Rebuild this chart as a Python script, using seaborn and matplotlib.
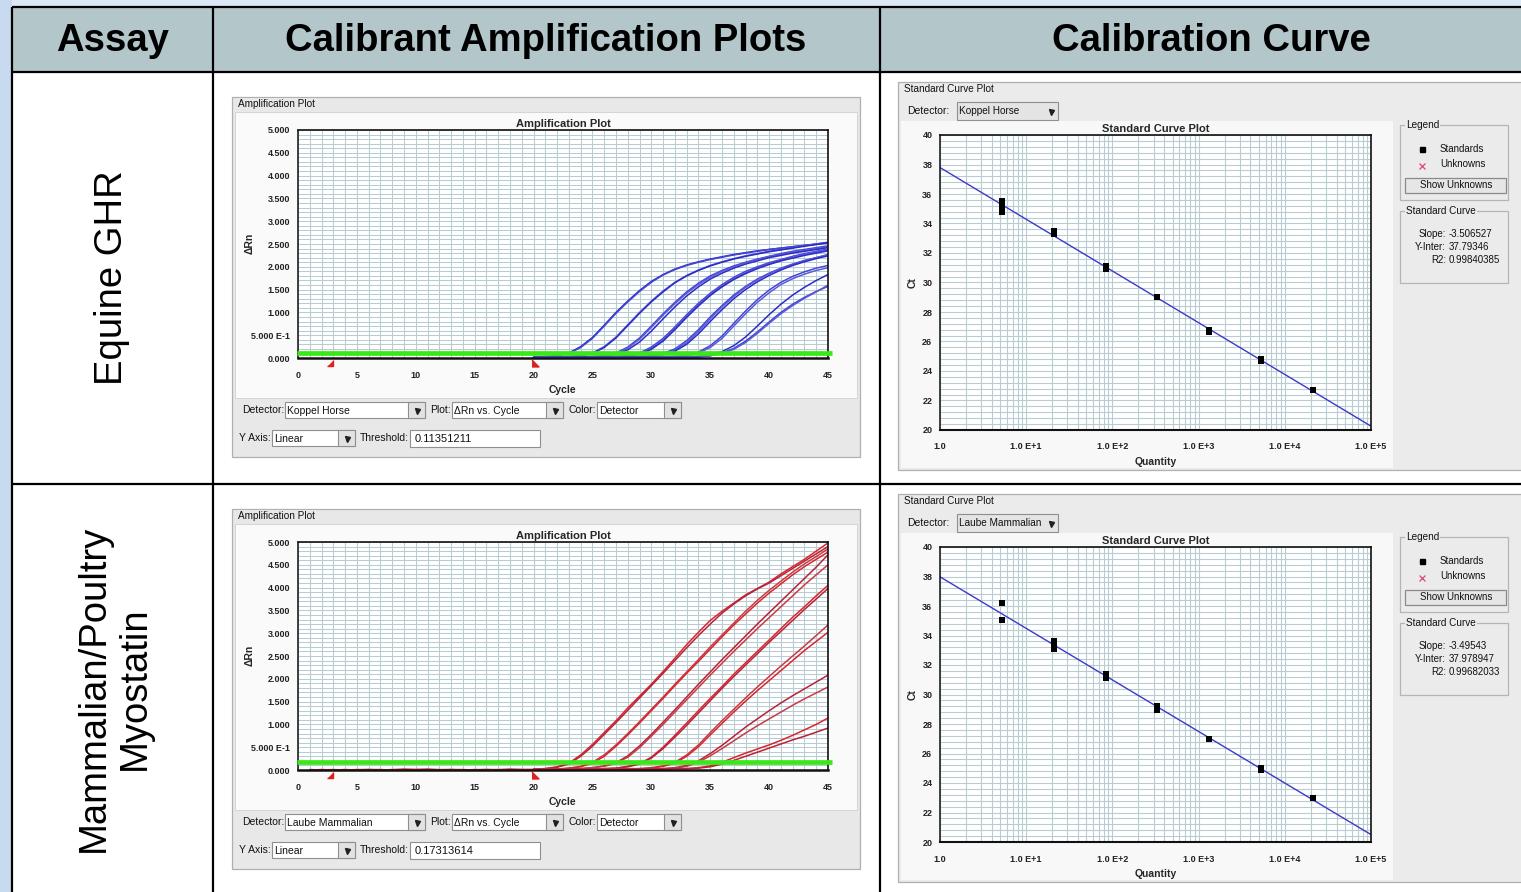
import matplotlib
matplotlib.use("Agg")
import matplotlib.pyplot as plt
from matplotlib.patches import Rectangle
from matplotlib.ticker import MultipleLocator, LogLocator, NullFormatter
import pandas as pd
import seaborn as sns

sns.set_style("white")
plt.rcParams["font.family"] = ["Liberation Sans", "DejaVu Sans"]

W, H = 1521, 892

# ---------------- table text ----------------
HEADERS = ["Assay", "Calibrant Amplification Plots", "Calibration Curve"]
ASSAYS = ["Equine GHR", "Mammalian/Poultry\nMyostatin"]
DETECTORS = ["Koppel Horse", "Laube Mammalian"]
THRESHOLDS = [0.11351211, 0.17313614]
SLOPES = [-3.506527, -3.49543]
INTERCEPTS = [37.79346, 37.978947]
R2_VALUES = [0.99840385, 0.99682033]

# ---------------- amplification data (ΔRn per cycle) ----------------
CYCLES = list(range(20, 46))
BASELINE_CYCLES = list(range(1, 21))
BASELINE_WINDOW = [2.7, 20.1]

GHR_RN = [
    [0.02, 0.03, 0.05, 0.11, 0.25, 0.45, 0.72, 1.00, 1.25, 1.48, 1.68, 1.83, 1.95, 2.04, 2.11, 2.17, 2.22, 2.27, 2.31, 2.35, 2.38, 2.41, 2.44, 2.47, 2.50, 2.53],
    [0.02, 0.03, 0.05, 0.10, 0.23, 0.43, 0.70, 0.98, 1.23, 1.46, 1.66, 1.82, 1.94, 2.03, 2.10, 2.16, 2.21, 2.26, 2.30, 2.34, 2.38, 2.41, 2.44, 2.47, 2.49, 2.52],
    [0.01, 0.02, 0.02, 0.03, 0.05, 0.11, 0.25, 0.46, 0.73, 1.00, 1.25, 1.47, 1.66, 1.81, 1.93, 2.03, 2.11, 2.18, 2.24, 2.29, 2.34, 2.38, 2.42, 2.46, 2.50, 2.54],
    [0.01, 0.01, 0.02, 0.03, 0.05, 0.10, 0.23, 0.44, 0.71, 0.98, 1.23, 1.45, 1.65, 1.80, 1.92, 2.02, 2.10, 2.17, 2.23, 2.28, 2.33, 2.37, 2.41, 2.45, 2.49, 2.53],
    [0.00, 0.01, 0.01, 0.02, 0.02, 0.03, 0.05, 0.11, 0.24, 0.44, 0.70, 0.97, 1.22, 1.45, 1.64, 1.80, 1.92, 2.02, 2.10, 2.17, 2.23, 2.29, 2.34, 2.38, 2.42, 2.46],
    [0.00, 0.01, 0.01, 0.02, 0.02, 0.03, 0.05, 0.10, 0.22, 0.41, 0.67, 0.94, 1.19, 1.42, 1.61, 1.77, 1.90, 2.00, 2.09, 2.16, 2.22, 2.27, 2.32, 2.36, 2.40, 2.44],
    [0.00, 0.00, 0.01, 0.01, 0.02, 0.02, 0.04, 0.08, 0.18, 0.35, 0.59, 0.86, 1.12, 1.36, 1.56, 1.73, 1.86, 1.97, 2.06, 2.13, 2.20, 2.25, 2.30, 2.34, 2.38, 2.42],
    [0.00, 0.00, 0.01, 0.01, 0.01, 0.02, 0.02, 0.03, 0.05, 0.11, 0.24, 0.43, 0.68, 0.95, 1.20, 1.42, 1.61, 1.77, 1.90, 2.00, 2.09, 2.16, 2.23, 2.29, 2.34, 2.39],
    [0.00, 0.00, 0.01, 0.01, 0.01, 0.02, 0.02, 0.03, 0.04, 0.09, 0.21, 0.40, 0.65, 0.92, 1.17, 1.39, 1.58, 1.74, 1.87, 1.98, 2.07, 2.14, 2.21, 2.27, 2.32, 2.37],
    [0.00, 0.00, 0.00, 0.01, 0.01, 0.01, 0.02, 0.03, 0.04, 0.08, 0.19, 0.37, 0.62, 0.89, 1.14, 1.37, 1.56, 1.72, 1.85, 1.96, 2.05, 2.13, 2.19, 2.25, 2.30, 2.35],
    [0.00, 0.00, 0.00, 0.01, 0.01, 0.01, 0.01, 0.02, 0.02, 0.03, 0.05, 0.10, 0.20, 0.38, 0.62, 0.90, 1.15, 1.38, 1.57, 1.73, 1.86, 1.97, 2.06, 2.14, 2.20, 2.26],
    [0.00, 0.00, 0.00, 0.01, 0.01, 0.01, 0.01, 0.02, 0.02, 0.03, 0.04, 0.08, 0.17, 0.34, 0.58, 0.86, 1.12, 1.35, 1.55, 1.71, 1.85, 1.96, 2.05, 2.13, 2.20, 2.27],
    [0.00, 0.00, 0.00, 0.00, 0.01, 0.01, 0.01, 0.01, 0.02, 0.02, 0.04, 0.07, 0.15, 0.30, 0.53, 0.80, 1.06, 1.30, 1.50, 1.67, 1.81, 1.93, 2.03, 2.11, 2.18, 2.24],
    [0.00, 0.00, 0.00, 0.00, 0.00, 0.01, 0.01, 0.01, 0.01, 0.01, 0.02, 0.02, 0.03, 0.06, 0.13, 0.27, 0.48, 0.76, 1.03, 1.28, 1.49, 1.66, 1.79, 1.89, 1.97, 2.03],
    [0.00, 0.00, 0.00, 0.00, 0.00, 0.01, 0.01, 0.01, 0.01, 0.01, 0.02, 0.02, 0.03, 0.05, 0.11, 0.23, 0.43, 0.70, 0.97, 1.22, 1.43, 1.61, 1.74, 1.84, 1.92, 1.98],
    [0.00, 0.00, 0.00, 0.00, 0.00, 0.00, 0.01, 0.01, 0.01, 0.01, 0.01, 0.02, 0.02, 0.02, 0.03, 0.06, 0.14, 0.27, 0.46, 0.70, 0.95, 1.18, 1.38, 1.55, 1.70, 1.83],
    [0.00, 0.00, 0.00, 0.00, 0.00, 0.00, 0.01, 0.01, 0.01, 0.01, 0.01, 0.02, 0.02, 0.02, 0.03, 0.05, 0.11, 0.21, 0.37, 0.57, 0.79, 1.00, 1.18, 1.33, 1.46, 1.57],
    [0.00, 0.00, 0.00, 0.00, 0.00, 0.00, 0.01, 0.01, 0.01, 0.01, 0.01, 0.02, 0.02, 0.02, 0.02, 0.05, 0.10, 0.19, 0.34, 0.54, 0.76, 0.97, 1.15, 1.31, 1.45, 1.60],
]

MSTN_RN = [
    [0.02, 0.03, 0.07, 0.15, 0.33, 0.56, 0.82, 1.08, 1.36, 1.62, 1.88, 2.16, 2.45, 2.75, 3.02, 3.28, 3.48, 3.66, 3.84, 3.98, 4.12, 4.30, 4.46, 4.62, 4.80, 4.98],
    [0.02, 0.03, 0.06, 0.13, 0.30, 0.52, 0.78, 1.04, 1.31, 1.58, 1.85, 2.12, 2.40, 2.68, 2.95, 3.20, 3.44, 3.64, 3.82, 3.97, 4.10, 4.26, 4.42, 4.58, 4.74, 4.90],
    [0.01, 0.02, 0.02, 0.04, 0.08, 0.17, 0.33, 0.55, 0.80, 1.06, 1.33, 1.60, 1.88, 2.15, 2.42, 2.70, 2.96, 3.22, 3.48, 3.72, 3.94, 4.14, 4.34, 4.52, 4.68, 4.85],
    [0.01, 0.02, 0.02, 0.04, 0.07, 0.15, 0.30, 0.52, 0.77, 1.03, 1.30, 1.57, 1.85, 2.12, 2.38, 2.65, 2.92, 3.18, 3.42, 3.66, 3.88, 4.08, 4.28, 4.46, 4.62, 4.78],
    [0.01, 0.01, 0.02, 0.02, 0.03, 0.05, 0.09, 0.16, 0.31, 0.53, 0.78, 1.05, 1.32, 1.60, 1.88, 2.15, 2.42, 2.68, 2.94, 3.20, 3.45, 3.70, 3.95, 4.20, 4.45, 4.72],
    [0.01, 0.01, 0.02, 0.02, 0.03, 0.05, 0.08, 0.15, 0.28, 0.49, 0.74, 1.00, 1.27, 1.54, 1.81, 2.08, 2.34, 2.60, 2.85, 3.10, 3.34, 3.58, 3.82, 4.06, 4.28, 4.50],
    [0.00, 0.01, 0.01, 0.01, 0.02, 0.02, 0.03, 0.04, 0.08, 0.14, 0.28, 0.50, 0.76, 1.03, 1.30, 1.57, 1.83, 2.10, 2.35, 2.60, 2.85, 3.10, 3.35, 3.58, 3.82, 4.05],
    [0.00, 0.01, 0.01, 0.01, 0.02, 0.02, 0.03, 0.04, 0.07, 0.13, 0.26, 0.47, 0.72, 0.98, 1.25, 1.52, 1.79, 2.05, 2.30, 2.55, 2.80, 3.04, 3.28, 3.52, 3.75, 3.98],
    [0.00, 0.00, 0.01, 0.01, 0.01, 0.01, 0.02, 0.02, 0.03, 0.03, 0.05, 0.09, 0.17, 0.33, 0.55, 0.82, 1.08, 1.33, 1.58, 1.82, 2.05, 2.28, 2.50, 2.72, 2.95, 3.18],
    [0.00, 0.00, 0.01, 0.01, 0.01, 0.01, 0.02, 0.02, 0.02, 0.03, 0.04, 0.08, 0.15, 0.30, 0.51, 0.77, 1.02, 1.27, 1.51, 1.74, 1.96, 2.18, 2.40, 2.62, 2.82, 3.02],
    [0.00, 0.00, 0.00, 0.01, 0.01, 0.01, 0.01, 0.02, 0.02, 0.02, 0.03, 0.03, 0.05, 0.10, 0.20, 0.36, 0.54, 0.74, 0.94, 1.12, 1.30, 1.47, 1.63, 1.78, 1.93, 2.08],
    [0.00, 0.00, 0.00, 0.01, 0.01, 0.01, 0.01, 0.02, 0.02, 0.02, 0.03, 0.03, 0.04, 0.08, 0.17, 0.31, 0.47, 0.64, 0.81, 0.97, 1.12, 1.27, 1.42, 1.56, 1.69, 1.82],
    [0.00, 0.00, 0.00, 0.00, 0.01, 0.01, 0.01, 0.01, 0.01, 0.02, 0.02, 0.02, 0.03, 0.03, 0.05, 0.09, 0.17, 0.27, 0.37, 0.46, 0.55, 0.65, 0.76, 0.88, 1.00, 1.14],
    [0.00, 0.00, 0.00, 0.00, 0.01, 0.01, 0.01, 0.01, 0.01, 0.02, 0.02, 0.02, 0.03, 0.03, 0.04, 0.07, 0.13, 0.21, 0.30, 0.39, 0.48, 0.57, 0.66, 0.74, 0.83, 0.92],
]

# early-cycle baseline noise (only visible for the myostatin run)
MSTN_BASELINE = [
    [0.01, 0.00, 0.01, 0.00, 0.01, 0.01, 0.00, 0.01, 0.02, 0.01, 0.02, 0.01, 0.01, 0.00, 0.01, 0.01, 0.01, 0.02, 0.01, 0.01],
    [0.00, 0.01, 0.00, 0.01, 0.00, 0.01, 0.01, 0.00, 0.01, 0.01, 0.01, 0.00, 0.01, 0.01, 0.00, 0.01, 0.00, 0.01, 0.01, 0.01],
]

# ---------------- standard curve data ----------------
QUANTITY = [5.2, 20.8, 83.3, 333.0, 1333.0, 5333.0, 21333.0]
GHR_CT = [[35.55, 35.2, 34.8], [33.5, 33.3], [31.15, 30.9], [29.0],
          [26.8, 26.65], [24.8, 24.65], [22.7]]
MSTN_CT = [[36.2, 35.05], [33.6, 33.33, 33.08], [31.4, 31.1], [29.2, 28.97],
           [27.0], [25.05, 24.85], [22.95]]
QTY_RANGE = [1.0, 1.0e5]

BLUE_SHADES = ["#2c2cc6", "#4545d4", "#5a5ad8"]
RED_SHADES = ["#d8262c", "#b82238", "#c93a44"]

# ---------------- figure ----------------
fig = plt.figure(figsize=(W / 100, H / 100), dpi=100, facecolor="#dbe7f4")
bg = fig.add_axes([0, 0, 1, 1])
bg.set_xlim(0, W)
bg.set_ylim(H, 0)
bg.axis("off")


def frac(x0, y0, x1, y1):
    return [x0 / W, 1 - y1 / H, (x1 - x0) / W, (y1 - y0) / H]


def rect(x0, y0, x1, y1, fc, ec="none", lw=0.8, z=1):
    bg.add_patch(Rectangle((x0, y0), x1 - x0, y1 - y0, fc=fc, ec=ec, lw=lw, zorder=z))


UI = dict(fontsize=7.5, color="#111111")

# outer table
rect(0, 0, 12, H, "#c7daef", z=0)
rect(12, 7, W + 5, H + 5, "white", z=0.5)
rect(12, 7, W + 5, 72, "#b3c7cb", z=0.6)
for y in (7, 72, 484):
    bg.plot([12, W], [y, y], color="black", lw=1.6, zorder=3, solid_capstyle="butt")
for x in (12, 213, 880):
    bg.plot([x, x], [7, H], color="black", lw=1.6, zorder=3, solid_capstyle="butt")

for x, txt in zip((112, 546, 1211), HEADERS):
    bg.text(x, 41, txt, ha="center", va="center", fontsize=27.5,
            fontweight="bold", color="black", zorder=4)

bg.text(112, 278, ASSAYS[0], rotation=90, ha="center", va="center",
        fontsize=27.5, color="black", zorder=4)
bg.text(114, 688, ASSAYS[1], rotation=90, ha="center", va="center",
        multialignment="center", linespacing=1.18, fontsize=27.5,
        color="black", zorder=4)


def combo(x0, x1, yc, text, fill="white", h=16, aw=17, fs=7.5):
    rect(x0, yc - h / 2, x1, yc + h / 2, fill, ec="#8f8f8f", z=2)
    if aw:
        rect(x1 - aw, yc - h / 2, x1, yc + h / 2, "#e2e2e2", ec="#8f8f8f", z=2.1)
        ax_x = x1 - aw / 2
    else:
        ax_x = x1 - 7
    bg.plot([ax_x], [yc + 0.5], marker="v", ms=3.6, color="#202020", zorder=3)
    if text:
        bg.text(x0 + 2, yc + 0.5, text, ha="left", va="center", zorder=3,
                fontsize=fs, color="#111111")


def group_box(x0, y0, x1, y1, title, fill):
    rect(x0, y0, x1, y1, "none", ec="#b5b5b5", lw=0.9, z=2)
    bg.text(x0 + 6, y0, title, ha="left", va="center", zorder=3,
            bbox=dict(fc=fill, ec="none", pad=0.6), fontsize=7.2, color="#111111")


def amp_panel(dy, curves, color_list, detector, threshold, baseline=None):
    rect(232, 97 + dy, 860, 457 + dy, "#e8e8e8", ec="#b0b0b0", lw=0.9, z=1)
    rect(235, 112 + dy, 857, 398 + dy, "#fafafa", ec="#d0d0d0", lw=0.6, z=1.2)
    bg.text(238, 104 + dy, "Amplification Plot", ha="left", va="center",
            fontsize=7.2, color="#111111", zorder=3,
            bbox=dict(fc="#e8e8e8", ec="none", pad=0.5))
    # controls
    bg.text(284, 410 + dy, "Detector:", ha="right", va="center", zorder=3, **UI)
    combo(285, 425, 410 + dy, detector)
    bg.text(451, 410 + dy, "Plot:", ha="right", va="center", zorder=3, **UI)
    combo(452, 563, 410 + dy, "ΔRn vs. Cycle")
    bg.text(596, 410 + dy, "Color:", ha="right", va="center", zorder=3, **UI)
    combo(597, 681, 410 + dy, "Detector")
    bg.text(271, 438 + dy, "Y Axis:", ha="right", va="center", zorder=3, **UI)
    combo(272, 355, 438 + dy, "Linear")
    bg.text(409, 438 + dy, "Threshold:", ha="right", va="center", zorder=3, **UI)
    rect(410, 430 + dy, 540, 447 + dy, "white", ec="#8f8f8f", z=2)
    bg.text(415, 439 + dy, f"{threshold:.8f}", ha="left", va="center",
            zorder=3, fontsize=8, color="#111111")

    ax = fig.add_axes(frac(298, 130 + dy, 828, 358 + dy))
    ax.set_facecolor("white")
    ax.set_xlim(0, 45)
    ax.set_ylim(0, 5)
    ax.set_axisbelow(True)
    ax.xaxis.set_minor_locator(MultipleLocator(1))
    ax.yaxis.set_minor_locator(MultipleLocator(0.1))
    ax.grid(which="both", color="#b9ccd3", lw=0.75)

    rows = []
    for w, vals in enumerate(curves):
        for c, v in zip(CYCLES, vals):
            rows.append((w, c, v))
    if baseline is not None:
        for b, vals in enumerate(baseline):
            for c, v in zip(BASELINE_CYCLES, vals):
                rows.append((len(curves) + b, c, v))
    df = pd.DataFrame(rows, columns=["well", "Cycle", "dRn"])
    n_wells = df["well"].nunique()
    palette = [color_list[i % len(color_list)] for i in range(n_wells)]
    sns.lineplot(data=df, x="Cycle", y="dRn", hue="well", units="well",
                 estimator=None, palette=palette, lw=1.1, legend=False, ax=ax)

    ax.plot([-0.1, 45.35], [threshold, threshold], color="#3ae81a", lw=3.4,
            clip_on=False, zorder=5, solid_capstyle="butt")
    ax.plot([BASELINE_WINDOW[0]], [-0.1], marker=[(-1, -1), (1, -1), (1, 1)],
            ms=5, color="#dd2020", clip_on=False, zorder=6)
    ax.plot([BASELINE_WINDOW[1]], [-0.1], marker=[(-1, -1), (1, -1), (-1, 1)],
            ms=5, color="#dd2020", clip_on=False, zorder=6)

    yt = [0, 0.5, 1, 1.5, 2, 2.5, 3, 3.5, 4, 4.5, 5]
    ylab = ["0.000", "5.000 E-1"] + [f"{v:.3f}" for v in yt[2:]]
    ax.set_yticks(yt, ylab, fontsize=6.5, fontweight="bold", color="#222222")
    ax.set_xticks(range(0, 46, 5), [str(v) for v in range(0, 46, 5)],
                  fontsize=6.5, fontweight="bold", color="#222222")
    ax.tick_params(which="major", axis="y", length=4, width=0.8, color="#8a8a8a", pad=1.5)
    ax.tick_params(which="major", axis="x", length=2, width=0.8, color="#8a8a8a", pad=7)
    ax.tick_params(which="minor", length=0)
    for s in ("top", "right"):
        ax.spines[s].set_color("#111111")
        ax.spines[s].set_linewidth(1.2)
    ax.spines["bottom"].set_color("#111111")
    ax.spines["bottom"].set_linewidth(1.8)
    ax.spines["left"].set_color("#111111")
    ax.spines["left"].set_linewidth(1.1)
    ax.spines["left"].set_linestyle((0, (2, 1)))
    ax.set_title("Amplification Plot", fontsize=8, fontweight="bold", pad=2)
    ax.set_xlabel("Cycle", fontsize=7.5, fontweight="bold")
    ax.set_ylabel("ΔRn", fontsize=7.5, fontweight="bold")
    ax.xaxis.set_label_coords(0.498, -0.118)
    ax.yaxis.set_label_coords(-0.082, 0.504)
    return ax


def std_panel(dy, ct_groups, detector, slope, intercept, r2):
    panel_fc = "#ebebeb"
    rect(898, 82 + dy, W + 5, 470 + dy, panel_fc, ec="#b0b0b0", lw=0.9, z=1)
    rect(901, 121 + dy, 1393, 468 + dy, "#f8f8f8", ec="none", z=1.2)
    bg.text(904, 89 + dy, "Standard Curve Plot", ha="left", va="center",
            fontsize=7.2, color="#111111", zorder=3)
    bg.text(907, 111 + dy, "Detector:", ha="left", va="center", zorder=3, **UI)
    combo(957, 1058, 111 + dy, detector, fill="#e4e4e4", h=18, aw=0, fs=7.2)

    group_box(1400, 125 + dy, 1508, 200 + dy, "Legend", panel_fc)
    bg.plot([1422], [149 + dy], marker="s", ms=3.6, color="black", zorder=3)
    bg.text(1440, 149 + dy, "Standards", ha="left", va="center", zorder=3,
            fontsize=7, color="#111111")
    bg.plot([1422], [166 + dy], marker="x", ms=5, mew=0.9, color="#e0457a", zorder=3)
    bg.text(1440, 164 + dy, "Unknowns", ha="left", va="center", zorder=3,
            fontsize=7, color="#111111")
    rect(1405, 178 + dy, 1506, 193 + dy, "#e6e6e6", ec="#8a8a8a", lw=0.9, z=2)
    bg.text(1456, 185.5 + dy, "Show Unknowns", ha="center", va="center", zorder=3,
            fontsize=7, color="#111111")

    group_box(1400, 211 + dy, 1508, 283 + dy, "Standard Curve", panel_fc)
    for yy, lab, val in ((234, "Slope:", slope), (247, "Y-Inter:", intercept),
                         (260, "R2:", r2)):
        bg.text(1446, yy + dy, lab, ha="right", va="center", zorder=3,
                fontsize=7, color="#111111")
        bg.text(1449, yy + dy, f"{val}", ha="left", va="center", zorder=3,
                fontsize=7, color="#111111")

    ax = fig.add_axes(frac(940, 135 + dy, 1371, 430 + dy))
    ax.set_facecolor("white")
    ax.set_xscale("log")
    ax.set_xlim(QTY_RANGE[0], QTY_RANGE[1])
    ax.set_ylim(20, 40)
    ax.set_axisbelow(True)
    ax.xaxis.set_minor_locator(LogLocator(base=10, subs=range(2, 10), numticks=20))
    ax.xaxis.set_minor_formatter(NullFormatter())
    ax.yaxis.set_minor_locator(MultipleLocator(0.4))
    ax.grid(which="both", color="#b9ccd3", lw=0.8)

    qs, cts = [], []
    for q, grp in zip(QUANTITY, ct_groups):
        for c in grp:
            qs.append(q)
            cts.append(c)
    pts = pd.DataFrame({"Quantity": qs, "Ct": cts})
    fit = pd.DataFrame({"Quantity": QTY_RANGE,
                        "Ct": [intercept, intercept + slope * 5]})
    sns.lineplot(data=fit, x="Quantity", y="Ct", color="#3a3ac8", lw=1.0, ax=ax)
    sns.scatterplot(data=pts, x="Quantity", y="Ct", marker="s", s=16,
                    color="black", linewidth=0, ax=ax, zorder=4)

    ax.set_xticks([1, 10, 100, 1000, 1e4, 1e5],
                  ["1.0", "1.0 E+1", "1.0 E+2", "1.0 E+3", "1.0 E+4", "1.0 E+5"],
                  fontsize=6.5, fontweight="bold", color="#222222")
    ax.set_yticks(range(20, 41, 2), [str(v) for v in range(20, 41, 2)],
                  fontsize=6.5, fontweight="bold", color="#222222")
    ax.tick_params(which="major", axis="y", length=4, width=0.8, color="#8a8a8a", pad=1.5)
    ax.tick_params(which="major", axis="x", length=2, width=0.8, color="#8a8a8a", pad=7)
    ax.tick_params(which="minor", length=0)
    for s in ("top", "right"):
        ax.spines[s].set_color("#111111")
        ax.spines[s].set_linewidth(1.2)
    ax.spines["bottom"].set_color("#111111")
    ax.spines["bottom"].set_linewidth(1.5)
    ax.spines["left"].set_color("#111111")
    ax.spines["left"].set_linewidth(1.1)
    ax.spines["left"].set_linestyle((0, (2, 1)))
    ax.set_title("Standard Curve Plot", fontsize=8, fontweight="bold", pad=2)
    ax.set_xlabel("Quantity", fontsize=7.5, fontweight="bold")
    ax.set_ylabel("Ct", fontsize=7.5, fontweight="bold")
    ax.xaxis.set_label_coords(0.5, -0.092)
    ax.yaxis.set_label_coords(-0.052, 0.5)
    return ax


amp_panel(0, GHR_RN, BLUE_SHADES, DETECTORS[0], THRESHOLDS[0])
amp_panel(412, MSTN_RN, RED_SHADES, DETECTORS[1], THRESHOLDS[1], MSTN_BASELINE)
std_panel(0, GHR_CT, DETECTORS[0], SLOPES[0], INTERCEPTS[0], R2_VALUES[0])
std_panel(412, MSTN_CT, DETECTORS[1], SLOPES[1], INTERCEPTS[1], R2_VALUES[1])

fig.savefig("out.png", dpi=100, facecolor=fig.get_facecolor())
